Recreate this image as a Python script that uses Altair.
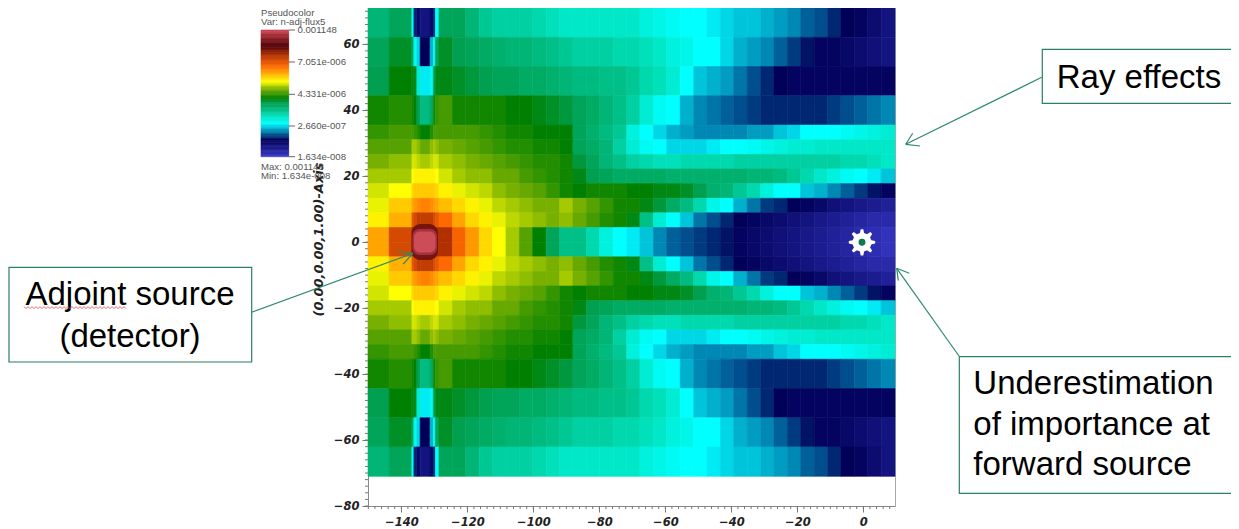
import math
import altair as alt
import pandas as pd

# ---- data: grid edges (data units) and colour level of each cell ----
x_edges = [-150.1, -143.7, -136.8, -136.2, -135.3, -134.3, -131.3, -130.3, -129.7,
           -128.6, -124.5, -120.5, -116.4, -112.4, -108.3, -104.2, -100.2, -96.1, -92.0,
           -88.0, -83.9, -79.9, -75.8, -71.7, -67.7, -63.6, -59.6, -55.5, -51.4, -47.4,
           -43.3, -39.3, -35.2, -31.1, -27.1, -23.0, -19.0, -14.9, -10.8, -6.8, -2.7, 1.3, 5.4, 9.6]
y_edges = [71, 62.1, 53.25, 44.4, 35.5, 31.06, 26.6, 22.2, 17.75, 13.3, 8.9, 4.44, 0,
           -4.44, -8.9, -13.3, -17.75, -22.2, -26.6, -31.06, -35.5, -44.4, -53.25, -62.1, -71]

row01 = [38,41, 26,15,11,8,11,15,26, 41,41,38,35,34,34,34,33,32,31, 31,31,31,31,31,29,28,27,26,26,25,24,23,23,22,21,20,18,17,15,13,12,10,8]
row02 = [41,44, 41,27,24,13,22,26,41, 44,42,41,40,39,38,38,37,36,35, 34,34,34,33,33,32,31,29,28,26,26,24,22,21,20,18,16,14,12,12,11,10,9,8]
row03 = [42,46, 45,45,30,25,27,42,45, 45,44,43,42,41,41,40,40,39,38, 37,37,36,36,35,33,32,30,26,23,22,21,19,17,15,13,12,12,12,12,12,12,12,12]
row04 = [47,48, 47,46,42,37,40,47,49, 50,47,47,47,47,46,46,45,44,43, 41,40,38,36,34,30,27,26,22,20,19,18,17,16,15,15,15,15,15,16,17,18,19,20]
row05 = [49,50, 50,49,48,46,48,50,50, 50,50,50,49,48,47,47,46,46,46, 41,39,37,35,29,26,24,22,21,20,20,20,20,21,21,23,24,26,26,26,27,28,29,30]
row06 = [51,51, 55,55,54,52,54,55,54, 53,52,51,50,49,48,48,47,47,46, 41,40,38,34,30,27,26,24,24,24,25,26,26,27,28,29,30,30,31,31,31,31,31,31]
row07 = [53,54, 57,57,56,55,56,57,57, 55,54,53,52,51,50,49,48,48,47, 43,41,38,36,34,33,32,32,33,33,33,33,34,34,34,34,34,34,34,34,33,33,32,31]
row08 = [55,55, 59,60,60,60,60,60,59, 57,55,54,54,52,52,50,49,48,47, 45,42,41,40,40,40,40,39,39,39,39,39,39,38,38,37,35,33,31,29,27,26,25,23]
row09 = [57,59, 62,63,63,63,63,63,62, 60,58,57,56,54,53,52,51,49,47, 46,47,47,47,46,46,45,45,44,42,39,38,35,33,29,26,26,23,22,20,18,16,14,12]
row10 = [58,63, 66,67,68,69,68,67,66, 64,62,60,58,56,55,54,53,53,55, 53,51,49,47,47,45,43,40,37,33,28,26,22,19,16,15,13,12,11,9,8,7,6,5]
row11 = [60,65, 74,76,78,78,78,76,74, 71,66,62,60,58,56,55,54,53,54, 52,50,48,47,45,36,30,26,23,19,17,15,13,12,11,10,9,8,7,6,5,4,3,3]
row12 = [66,76, 80,84,84,84,84,84,80, 80,72,67,62,59,55,51,46,41,36, 36,33,29,26,25,23,20,18,17,16,15,14,12,11,10,9,8,7,6,5,4,3,2,1]
# the lower half of the picture mirrors the upper half
grid_rows = [row01, row02, row03, row04, row05, row06, row07, row08, row09, row10, row11, row12,
             row12, row11, row10, row09, row08, row07, row06, row05, row04, row03, row02, row01]

color_stops = [0, 6, 13, 20, 26, 31, 36, 42, 46, 53, 59, 65, 71, 80, 87, 93, 100]
color_range = ["#3636c4", "#1c1c90", "#000058", "#0088b4", "#00ffff", "#00e8c8", "#00c088", "#00a050",
               "#008000", "#78b000", "#ffff00", "#ffb000", "#ff6a00", "#b03000", "#500008", "#8a1c24", "#cc4c58"]

legend_ticks = ["0.001148", "7.051e-006", "4.331e-006", "2.660e-007", "1.634e-008"]
legend_levels = list(range(0, 101))
x_major = [-140, -120, -100, -80, -60, -40, -20, 0]
y_major = [60, 40, 20, 0, -20, -40, -60, -80]
x_minor = list(range(-150, 10, 2))
y_minor = list(range(-80, 72, 2))

# ---- geometry helpers: page pixels to data units ----
W, H = 527, 498
XD = [-150.1, 9.6]
YD = [-80, 71]
def X(px):
    return XD[0] + (px - 368) * (XD[1] - XD[0]) / W
def Y(py):
    return YD[1] - (py - 8) * (YD[1] - YD[0]) / H

xs = alt.Scale(domain=XD, nice=False, zero=False)
ys = alt.Scale(domain=YD, nice=False, zero=False)
cs = alt.Scale(domain=color_stops, range=color_range, interpolate="rgb", clamp=True)
FONT = "DejaVu Sans"

# ---- heat map ----
cells = []
for j, row in enumerate(grid_rows):
    for i, v in enumerate(row):
        cells.append({"x0": x_edges[i], "x1": x_edges[i + 1], "y0": y_edges[j], "y1": y_edges[j + 1], "v": v})

def q_x(field="x0"):
    return alt.X(f"{field}:Q", scale=xs)
def q_y(field="y0"):
    return alt.Y(f"{field}:Q", scale=ys)

x_axis = alt.Axis(values=x_major, format="d", grid=False, tickSize=6, tickColor="#777", domainColor="#888",
                  labelFont=FONT, labelFontSize=11.5, labelFontStyle="italic", labelFontWeight="bold",
                  labelColor="#222", labelPadding=4, titleFont=FONT,
                  titleFontSize=13, titleFontStyle="italic", titleFontWeight="bold", titleColor="#222",
                  titleX=W / 2, titleY=526, titleBaseline="alphabetic")
y_axis = alt.Axis(values=y_major, format="d", grid=False, tickSize=6, tickColor="#777", domainColor="#888",
                  labelFont=FONT, labelFontSize=11.5, labelFontStyle="italic", labelFontWeight="bold",
                  labelColor="#222", labelPadding=3, titleFont=FONT,
                  titleFontSize=13, titleFontStyle="italic", titleFontWeight="bold", titleColor="#222",
                  titleX=-46, titleY=231, titleBaseline="alphabetic")

heat = alt.Chart(pd.DataFrame(cells)).mark_rect(strokeWidth=0.6).encode(
    x=alt.X("x0:Q", scale=xs, axis=x_axis, title="(1.00,0.00,0.00)-Axis"),
    x2="x1:Q",
    y=alt.Y("y0:Q", scale=ys, axis=y_axis, title="(0.00,0.00,1.00)-Axis"),
    y2="y1:Q",
    color=alt.Color("v:Q", scale=cs, legend=None),
    stroke=alt.Stroke("v:Q", scale=cs, legend=None),
)

# ---- detector blob (nested rounded rectangles) ----
blob = []
for l, r, t, b, v, cr in [(411.5, 438, 224, 260, 84, 9), (412, 437.5, 226.5, 257.5, 91, 8),
                          (412.5, 437, 229, 255, 96, 7), (414, 435.5, 231.5, 252.5, 100, 6)]:
    blob.append(alt.Chart(pd.DataFrame([{"x0": X(l), "x1": X(r), "y0": Y(t), "y1": Y(b), "v": v}]))
                .mark_rect(cornerRadius=cr, strokeWidth=0).encode(
        x=q_x(), x2="x1:Q", y=q_y(), y2="y1:Q",
        color=alt.Color("v:Q", scale=cs, legend=None)))

# ---- source marker ----
pts = []
for n in range(8):
    a = n * math.pi / 4 - math.pi / 2
    for da, rad in [(-0.22, 0.72), (-0.10, 1.0), (0.10, 1.0), (0.22, 0.72)]:
        pts.append((rad * math.cos(a + da), rad * math.sin(a + da)))
gear = "M" + " L".join(f"{p[0]:.3f} {p[1]:.3f}" for p in pts) + " Z"
src = pd.DataFrame([{"x": X(862), "y": Y(242.3)}])
star = alt.Chart(src).mark_point(shape=gear, filled=True, fill="white", opacity=1, size=700, strokeWidth=0).encode(
    x=q_x("x"), y=q_y("y"))
dot = alt.Chart(src).mark_point(shape="circle", filled=True, fill="#0a7a50", opacity=1, size=48, strokeWidth=0).encode(
    x=q_x("x"), y=q_y("y"))

# ---- minor ticks ----
minor_x = alt.Chart(pd.DataFrame({"x": x_minor})).mark_rule(color="#777", strokeWidth=1).encode(
    x=q_x("x"), y=alt.value(H), y2=alt.value(H + 3))
minor_y = alt.Chart(pd.DataFrame({"y": y_minor})).mark_rule(color="#777", strokeWidth=1).encode(
    y=q_y("y"), x=alt.value(0), x2=alt.value(-3))

# ---- legend ----
L_T, L_B = 30, 156.7
bar = pd.DataFrame([{"x0": X(261), "x1": X(288.7),
                     "y0": Y(L_B - (L_B - L_T) * v / 100), "y1": Y(L_B - (L_B - L_T) * (v + 1) / 100), "v": v}
                    for v in legend_levels[:-1]])
legend_bar = alt.Chart(bar).mark_rect(strokeWidth=0.6).encode(
    x=q_x(), x2="x1:Q", y=q_y(), y2="y1:Q", color=alt.Color("v:Q", scale=cs, legend=None),
    stroke=alt.Stroke("v:Q", scale=cs, legend=None))
tick_y = [30, 62, 94.3, 126, 156.7]
lt = pd.DataFrame([{"x0": X(288.7), "x1": X(295), "y": Y(p), "tx": X(297.5), "s": s}
                   for p, s in zip(tick_y, legend_ticks)])
legend_tick = alt.Chart(lt).mark_rule(color="#666", strokeWidth=1).encode(x=q_x(), x2="x1:Q", y=q_y("y"))
legend_lab = alt.Chart(lt).mark_text(align="left", baseline="middle", font="Liberation Sans", fontSize=9.6,
                                     color="#555").encode(x=q_x("tx"), y=q_y("y"), text="s:N")
legend_head = pd.DataFrame([
    {"x": X(261), "y": Y(16), "s": "Pseudocolor"},
    {"x": X(261), "y": Y(25), "s": "Var: n-adj-flux5"},
    {"x": X(261), "y": Y(170), "s": "Max: 0.001148"},
    {"x": X(261), "y": Y(179), "s": "Min: 1.634e-008"},
])
legend_txt = alt.Chart(legend_head).mark_text(align="left", baseline="alphabetic", font="Liberation Sans",
                                              fontSize=9.6, color="#555").encode(x=q_x("x"), y=q_y("y"), text="s:N")

# ---- call-out boxes ----
boxes = pd.DataFrame([
    {"x0": X(9), "x1": X(251.7), "y0": Y(267.3), "y1": Y(362)},
    {"x0": X(1042.3), "x1": X(1245), "y0": Y(49.3), "y1": Y(103.3)},
    {"x0": X(959.3), "x1": X(1245), "y0": Y(356.7), "y1": Y(493.3)},
])
box_marks = alt.Chart(boxes).mark_rect(fill="white", stroke="#2a8060", strokeWidth=1.2).encode(
    x=q_x(), x2="x1:Q", y=q_y(), y2="y1:Q")
labels = pd.DataFrame([
    {"x": X(130), "y": Y(305), "s": "Adjoint source"},
    {"x": X(130), "y": Y(346.7), "s": "(detector)"},
])
labels2 = pd.DataFrame([
    {"x": X(1056.7), "y": Y(88.3), "s": "Ray effects"},
    {"x": X(973.3), "y": Y(394.3), "s": "Underestimation"},
    {"x": X(973.3), "y": Y(435), "s": "of importance at"},
    {"x": X(973.3), "y": Y(475), "s": "forward source"},
])
txt_c = alt.Chart(labels).mark_text(align="center", baseline="alphabetic", font="Liberation Sans", fontSize=33,
                                    color="#000").encode(x=q_x("x"), y=q_y("y"), text="s:N")
txt_l = alt.Chart(labels2).mark_text(align="left", baseline="alphabetic", font="Liberation Sans", fontSize=33,
                                     color="#000").encode(x=q_x("x"), y=q_y("y"), text="s:N")

# ---- arrows ----
segs = [
    (251.7, 312.3, 413, 253.3), (398, 251.7, 413, 253.3), (403.3, 264, 413, 253.3),
    (1041.7, 77.3, 905.7, 144.3), (912.7, 133.3, 905.7, 144.3), (920, 146, 905.7, 144.3),
    (959, 356, 896.7, 268.3), (898.3, 280.7, 896.7, 268.3), (909.3, 273.3, 896.7, 268.3),
]
seg_df = pd.DataFrame([{"x0": X(a), "y0": Y(b), "x1": X(c), "y1": Y(d)} for a, b, c, d in segs])
arrows = alt.Chart(seg_df).mark_rule(color="#2e8b6a", strokeWidth=1.2).encode(
    x=q_x(), x2="x1:Q", y=q_y(), y2="y1:Q")

# ---- spell-check squiggle under "Adjoint" ----
sq = pd.DataFrame([{"x": X(24 + 2 * i), "y": Y(307.6 + (1 if i % 2 else -1)), "i": i} for i in range(52)])
squiggle = alt.Chart(sq).mark_line(color="#e05a5a", strokeWidth=0.9).encode(
    x=q_x("x"), y=q_y("y"), order="i:Q")

chart = alt.layer(
    heat, *blob, star, dot, minor_x, minor_y,
    legend_bar, legend_tick, legend_lab, legend_txt,
    arrows, box_marks, txt_c, txt_l, squiggle,
).resolve_scale(x="shared", y="shared", color="shared").properties(
    width=W, height=H,
    padding={"left": 360, "right": 336, "top": 0, "bottom": 22},
    autosize=alt.AutoSizeParams(type="none"),
    background="white",
).configure_view(stroke="#aaaaaa", strokeWidth=1)

chart.save("out.html", embed_options={"renderer": "svg", "actions": False})
